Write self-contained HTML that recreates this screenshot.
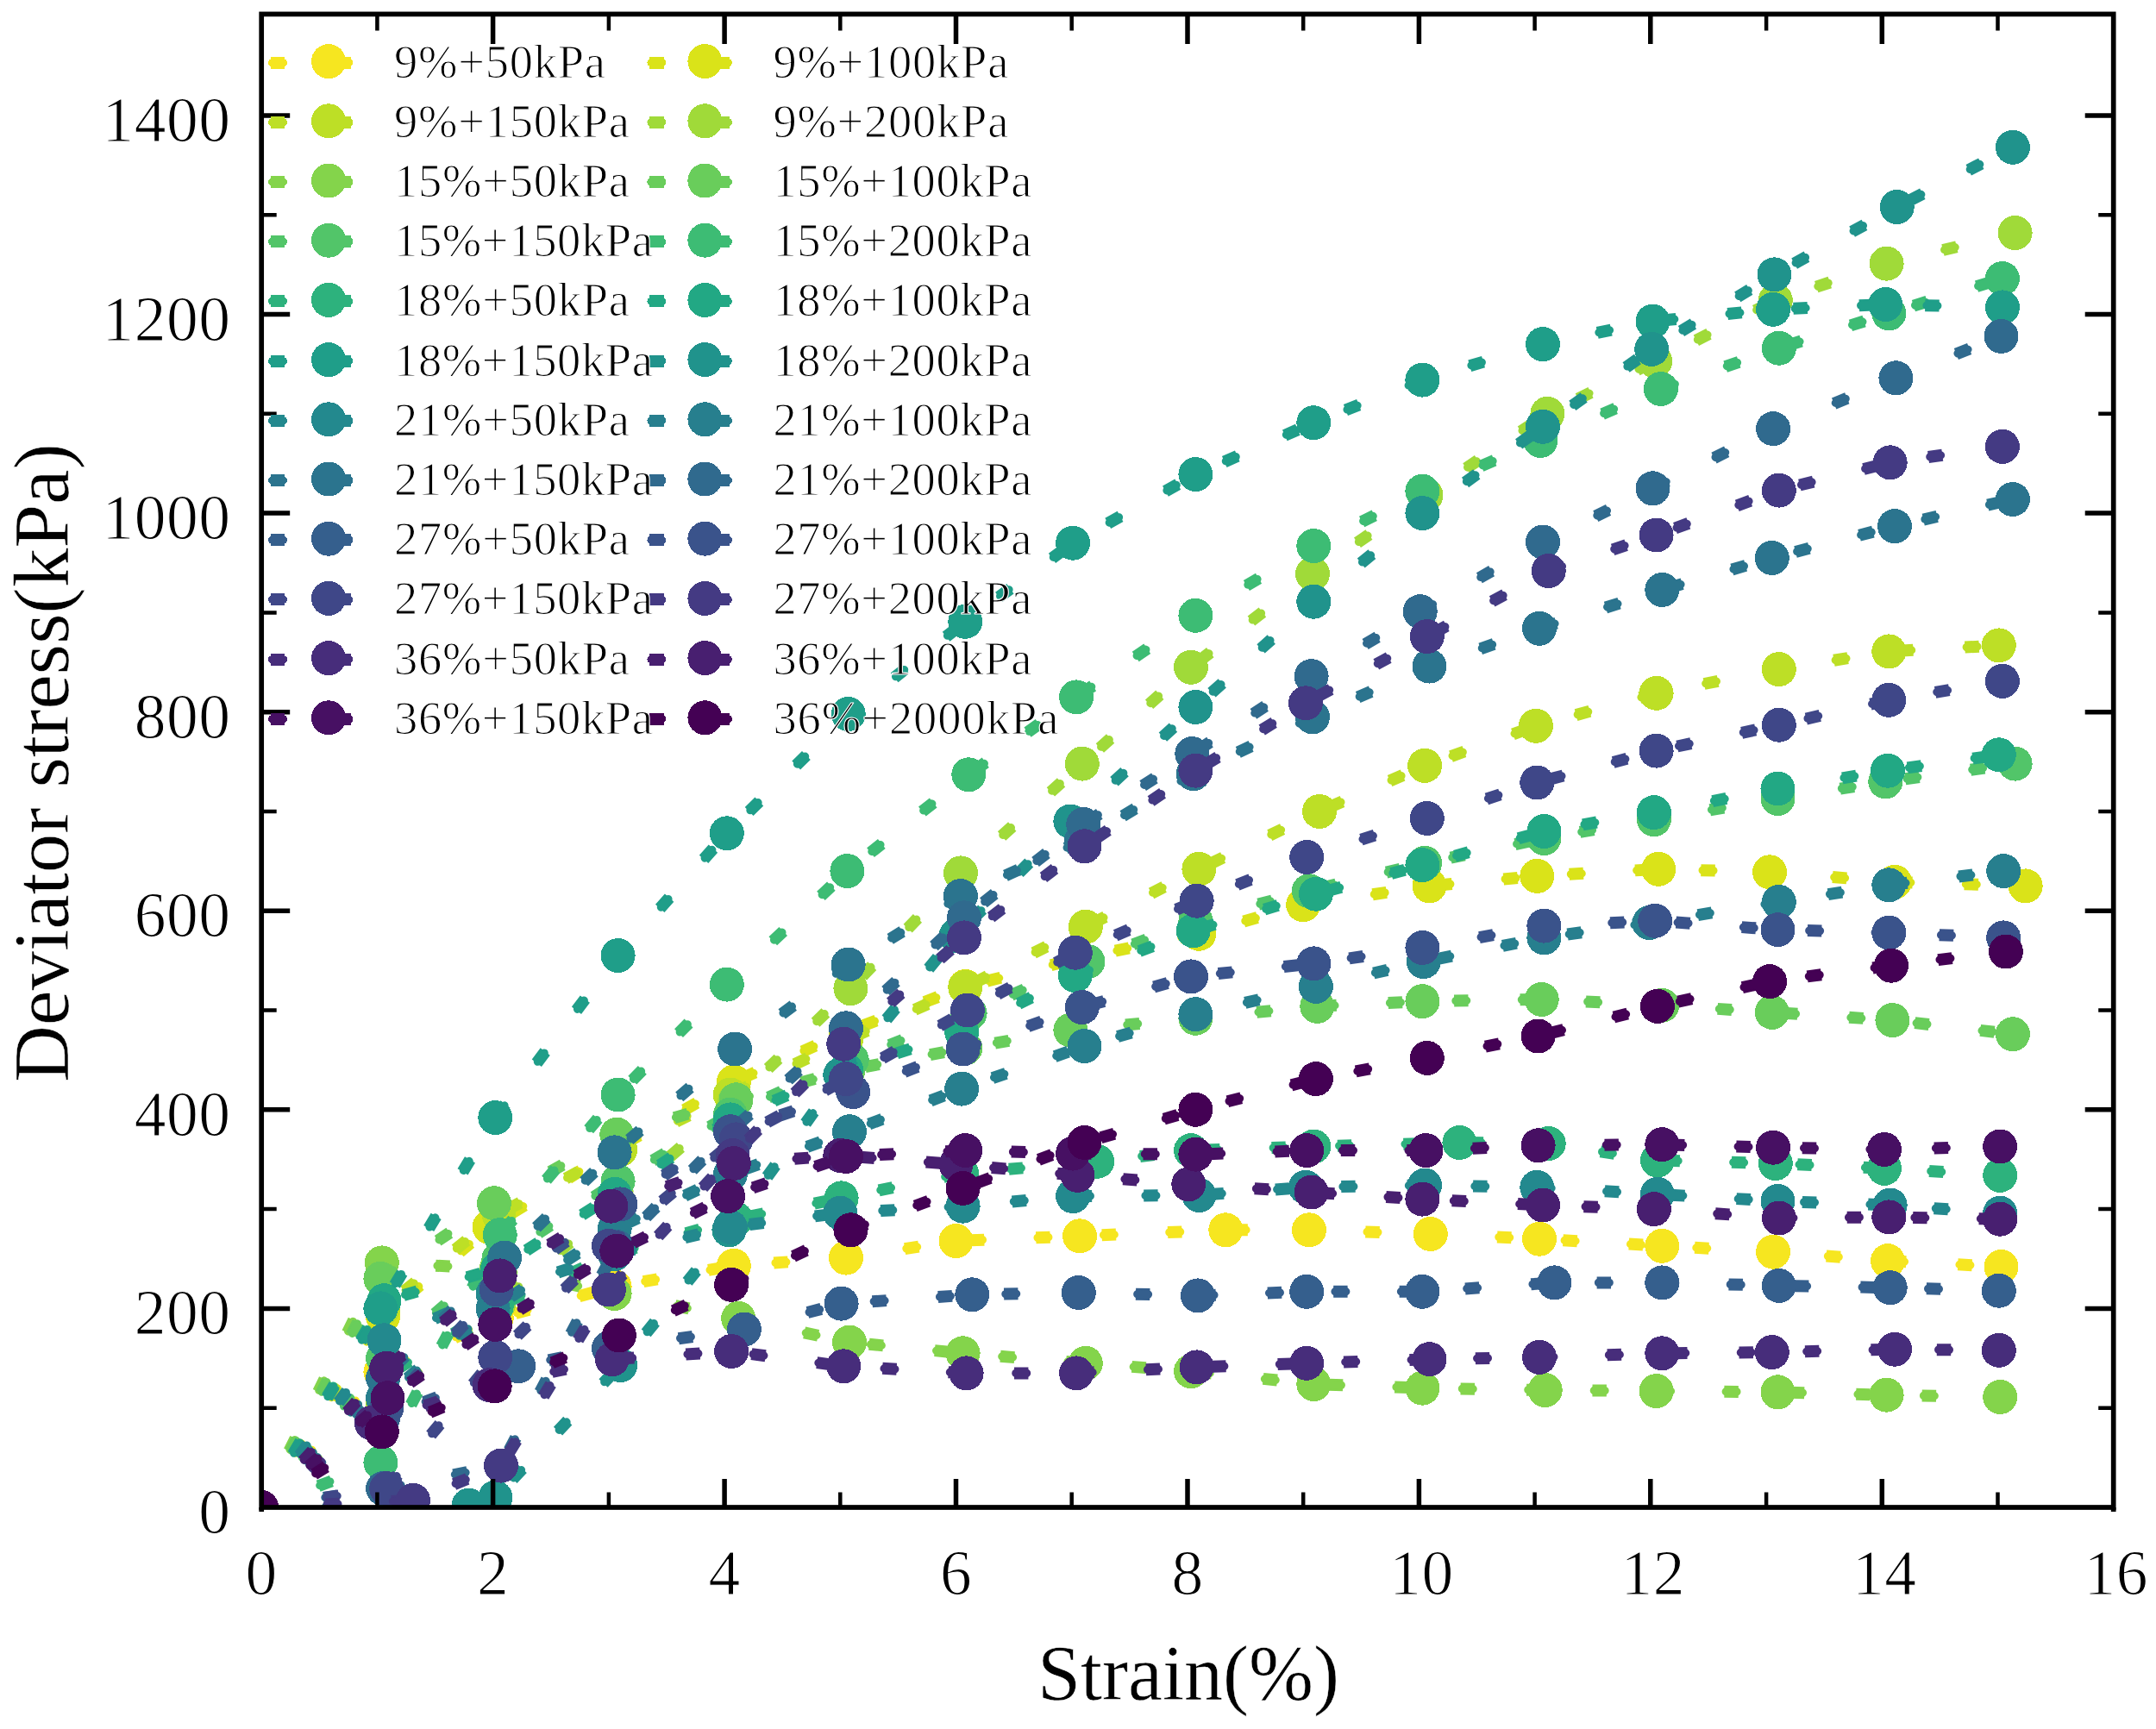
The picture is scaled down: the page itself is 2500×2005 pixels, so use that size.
<!DOCTYPE html>
<html><head><meta charset="utf-8"><title>Deviator stress vs strain</title>
<style>html,body{margin:0;padding:0;background:#fff}svg{display:block}text{font-family:"Liberation Serif",serif;fill:#000;stroke:#fff;stroke-width:1.1px;stroke-linejoin:round}</style></head><body>
<svg width="2500" height="2005" viewBox="0 0 2500 2005">
<rect width="2500" height="2005" fill="#fff"/>
<defs><clipPath id="c"><rect x="303.2" y="16.4" width="2147.5" height="1731.6"/></clipPath></defs>
<g clip-path="url(#c)">
<g fill="#f6e620" stroke="#f6e620">
<path d="M303.2,1748.0 L441.4,1591.2 L575.7,1528.9 L712.6,1492.1 L850.8,1467.8 L981.0,1458.6 L1108.5,1439.0 L1252.1,1433.3 L1421.3,1426.3 L1517.9,1426.3 L1658.8,1431.0 L1785.0,1436.7 L1927.3,1444.8 L2056.1,1451.7 L2189.0,1462.1 L2320.5,1469.0" fill="none" stroke-width="14" stroke-linejoin="round" stroke-dasharray="16.4 60.05" stroke-dashoffset="-74.1"/><path d="M303.2,1748.0 L441.4,1591.2 L575.7,1528.9 L712.6,1492.1 L850.8,1467.8 L981.0,1458.6 L1108.5,1439.0 L1252.1,1433.3 L1421.3,1426.3 L1517.9,1426.3 L1658.8,1431.0 L1785.0,1436.7 L1927.3,1444.8 L2056.1,1451.7 L2189.0,1462.1 L2320.5,1469.0" fill="none" stroke-width="9.4" stroke-linecap="round" stroke-linejoin="round" stroke-dasharray="12.6 63.85" stroke-dashoffset="-76.0"/>
<g stroke="none" shape-rendering="crispEdges"><circle cx="303.2" cy="1748.0" r="20"/><circle cx="441.4" cy="1591.2" r="20"/><circle cx="575.7" cy="1528.9" r="20"/><circle cx="712.6" cy="1492.1" r="20"/><circle cx="850.8" cy="1467.8" r="20"/><circle cx="981.0" cy="1458.6" r="20"/><circle cx="1108.5" cy="1439.0" r="20"/><circle cx="1252.1" cy="1433.3" r="20"/><circle cx="1421.3" cy="1426.3" r="20"/><circle cx="1517.9" cy="1426.3" r="20"/><circle cx="1658.8" cy="1431.0" r="20"/><circle cx="1785.0" cy="1436.7" r="20"/><circle cx="1927.3" cy="1444.8" r="20"/><circle cx="2056.1" cy="1451.7" r="20"/><circle cx="2189.0" cy="1462.1" r="20"/><circle cx="2320.5" cy="1469.0" r="20"/></g></g>
<g fill="#dae319" stroke="#dae319">
<path d="M303.2,1748.0 L444.1,1526.6 L567.6,1422.9 L716.6,1330.7" fill="none" stroke-width="14" stroke-linejoin="round" stroke-dasharray="16.4 60.05" stroke-dashoffset="-72.8"/><path d="M303.2,1748.0 L444.1,1526.6 L567.6,1422.9 L716.6,1330.7" fill="none" stroke-width="9.4" stroke-linecap="round" stroke-linejoin="round" stroke-dasharray="12.6 63.85" stroke-dashoffset="-74.7"/>
<path d="M716.6,1330.7 L850.8,1254.6 L981.0,1196.9 L1119.3,1143.9 L1249.5,1111.6 L1390.4,1082.8 L1511.2,1049.3 L1657.5,1027.4 L1782.3,1015.9 L1923.2,1007.8 L2052.1,1011.3 L2197.0,1022.8 L2348.7,1027.4" fill="none" stroke-width="14" stroke-linejoin="round" stroke-dasharray="16.4 60.05" stroke-dashoffset="-12.0"/><path d="M716.6,1330.7 L850.8,1254.6 L981.0,1196.9 L1119.3,1143.9 L1249.5,1111.6 L1390.4,1082.8 L1511.2,1049.3 L1657.5,1027.4 L1782.3,1015.9 L1923.2,1007.8 L2052.1,1011.3 L2197.0,1022.8 L2348.7,1027.4" fill="none" stroke-width="9.4" stroke-linecap="round" stroke-linejoin="round" stroke-dasharray="12.6 63.85" stroke-dashoffset="-13.9"/>
<g stroke="none" shape-rendering="crispEdges"><circle cx="303.2" cy="1748.0" r="20"/><circle cx="444.1" cy="1526.6" r="20"/><circle cx="567.6" cy="1422.9" r="20"/><circle cx="716.6" cy="1330.7" r="20"/><circle cx="850.8" cy="1254.6" r="20"/><circle cx="981.0" cy="1196.9" r="20"/><circle cx="1119.3" cy="1143.9" r="20"/><circle cx="1249.5" cy="1111.6" r="20"/><circle cx="1390.4" cy="1082.8" r="20"/><circle cx="1511.2" cy="1049.3" r="20"/><circle cx="1657.5" cy="1027.4" r="20"/><circle cx="1782.3" cy="1015.9" r="20"/><circle cx="1923.2" cy="1007.8" r="20"/><circle cx="2052.1" cy="1011.3" r="20"/><circle cx="2197.0" cy="1022.8" r="20"/><circle cx="2348.7" cy="1027.4" r="20"/></g></g>
<g fill="#bddf26" stroke="#bddf26">
<path d="M303.2,1748.0 L444.1,1517.4 L578.4,1407.9 L719.3,1333.0" fill="none" stroke-width="14" stroke-linejoin="round" stroke-dasharray="16.4 60.05" stroke-dashoffset="-72.8"/><path d="M303.2,1748.0 L444.1,1517.4 L578.4,1407.9 L719.3,1333.0" fill="none" stroke-width="9.4" stroke-linecap="round" stroke-linejoin="round" stroke-dasharray="12.6 63.85" stroke-dashoffset="-74.7"/>
<path d="M719.3,1333.0 L846.8,1269.5 L981.0,1206.1 L1119.3,1145.0 L1258.8,1074.7 L1390.4,1007.8 L1530.0,941.0 L1652.1,887.9 L1781.0,841.8 L1920.6,803.8 L2062.8,776.1 L2190.3,755.4 L2317.8,748.4" fill="none" stroke-width="14" stroke-linejoin="round" stroke-dasharray="16.4 60.05" stroke-dashoffset="-72.2"/><path d="M719.3,1333.0 L846.8,1269.5 L981.0,1206.1 L1119.3,1145.0 L1258.8,1074.7 L1390.4,1007.8 L1530.0,941.0 L1652.1,887.9 L1781.0,841.8 L1920.6,803.8 L2062.8,776.1 L2190.3,755.4 L2317.8,748.4" fill="none" stroke-width="9.4" stroke-linecap="round" stroke-linejoin="round" stroke-dasharray="12.6 63.85" stroke-dashoffset="-74.1"/>
<g stroke="none" shape-rendering="crispEdges"><circle cx="303.2" cy="1748.0" r="20"/><circle cx="444.1" cy="1517.4" r="20"/><circle cx="578.4" cy="1407.9" r="20"/><circle cx="719.3" cy="1333.0" r="20"/><circle cx="846.8" cy="1269.5" r="20"/><circle cx="981.0" cy="1206.1" r="20"/><circle cx="1119.3" cy="1145.0" r="20"/><circle cx="1258.8" cy="1074.7" r="20"/><circle cx="1390.4" cy="1007.8" r="20"/><circle cx="1530.0" cy="941.0" r="20"/><circle cx="1652.1" cy="887.9" r="20"/><circle cx="1781.0" cy="841.8" r="20"/><circle cx="1920.6" cy="803.8" r="20"/><circle cx="2062.8" cy="776.1" r="20"/><circle cx="2190.3" cy="755.4" r="20"/><circle cx="2317.8" cy="748.4" r="20"/></g></g>
<g fill="#a0da39" stroke="#a0da39">
<path d="M303.2,1748.0 L444.1,1626.9 L578.4,1511.7 L712.6,1396.4" fill="none" stroke-width="14" stroke-linejoin="round" stroke-dasharray="16.4 60.05" stroke-dashoffset="-72.8"/><path d="M303.2,1748.0 L444.1,1626.9 L578.4,1511.7 L712.6,1396.4" fill="none" stroke-width="9.4" stroke-linecap="round" stroke-linejoin="round" stroke-dasharray="12.6 63.85" stroke-dashoffset="-74.7"/>
<path d="M712.6,1396.4 L852.2,1276.5 L986.4,1146.2 L1113.9,1012.4 L1254.8,885.6 L1381.0,773.8 L1521.9,665.4 L1653.5,574.3 L1794.4,479.8 L1919.2,418.7 L2058.8,348.4 L2187.6,305.7 L2336.6,270.0" fill="none" stroke-width="14" stroke-linejoin="round" stroke-dasharray="16.4 60.05" stroke-dashoffset="-8.4"/><path d="M712.6,1396.4 L852.2,1276.5 L986.4,1146.2 L1113.9,1012.4 L1254.8,885.6 L1381.0,773.8 L1521.9,665.4 L1653.5,574.3 L1794.4,479.8 L1919.2,418.7 L2058.8,348.4 L2187.6,305.7 L2336.6,270.0" fill="none" stroke-width="9.4" stroke-linecap="round" stroke-linejoin="round" stroke-dasharray="12.6 63.85" stroke-dashoffset="-10.3"/>
<g stroke="none" shape-rendering="crispEdges"><circle cx="303.2" cy="1748.0" r="20"/><circle cx="444.1" cy="1626.9" r="20"/><circle cx="578.4" cy="1511.7" r="20"/><circle cx="712.6" cy="1396.4" r="20"/><circle cx="852.2" cy="1276.5" r="20"/><circle cx="986.4" cy="1146.2" r="20"/><circle cx="1113.9" cy="1012.4" r="20"/><circle cx="1254.8" cy="885.6" r="20"/><circle cx="1381.0" cy="773.8" r="20"/><circle cx="1521.9" cy="665.4" r="20"/><circle cx="1653.5" cy="574.3" r="20"/><circle cx="1794.4" cy="479.8" r="20"/><circle cx="1919.2" cy="418.7" r="20"/><circle cx="2058.8" cy="348.4" r="20"/><circle cx="2187.6" cy="305.7" r="20"/><circle cx="2336.6" cy="270.0" r="20"/></g></g>
<g fill="#84d44b" stroke="#84d44b">
<path d="M303.2,1748.0 L442.8,1464.4 L575.7,1471.3 L712.6,1500.1" fill="none" stroke-width="14" stroke-linejoin="round" stroke-dasharray="16.4 60.05" stroke-dashoffset="-72.8"/><path d="M303.2,1748.0 L442.8,1464.4 L575.7,1471.3 L712.6,1500.1" fill="none" stroke-width="9.4" stroke-linecap="round" stroke-linejoin="round" stroke-dasharray="12.6 63.85" stroke-dashoffset="-74.7"/>
<path d="M712.6,1500.1 L856.2,1528.9 L985.0,1556.6 L1116.6,1569.3 L1258.8,1580.8 L1381.0,1590.1 L1523.3,1605.0 L1649.4,1609.7 L1791.7,1612.0 L1920.6,1613.1 L2061.5,1614.3 L2187.6,1617.7 L2319.2,1620.0" fill="none" stroke-width="14" stroke-linejoin="round" stroke-dasharray="16.4 60.05" stroke-dashoffset="-71.7"/><path d="M712.6,1500.1 L856.2,1528.9 L985.0,1556.6 L1116.6,1569.3 L1258.8,1580.8 L1381.0,1590.1 L1523.3,1605.0 L1649.4,1609.7 L1791.7,1612.0 L1920.6,1613.1 L2061.5,1614.3 L2187.6,1617.7 L2319.2,1620.0" fill="none" stroke-width="9.4" stroke-linecap="round" stroke-linejoin="round" stroke-dasharray="12.6 63.85" stroke-dashoffset="-73.6"/>
<g stroke="none" shape-rendering="crispEdges"><circle cx="303.2" cy="1748.0" r="20"/><circle cx="442.8" cy="1464.4" r="20"/><circle cx="575.7" cy="1471.3" r="20"/><circle cx="712.6" cy="1500.1" r="20"/><circle cx="856.2" cy="1528.9" r="20"/><circle cx="985.0" cy="1556.6" r="20"/><circle cx="1116.6" cy="1569.3" r="20"/><circle cx="1258.8" cy="1580.8" r="20"/><circle cx="1381.0" cy="1590.1" r="20"/><circle cx="1523.3" cy="1605.0" r="20"/><circle cx="1649.4" cy="1609.7" r="20"/><circle cx="1791.7" cy="1612.0" r="20"/><circle cx="1920.6" cy="1613.1" r="20"/><circle cx="2061.5" cy="1614.3" r="20"/><circle cx="2187.6" cy="1617.7" r="20"/><circle cx="2319.2" cy="1620.0" r="20"/></g></g>
<g fill="#69cd5b" stroke="#69cd5b">
<path d="M303.2,1748.0 L441.4,1482.8 L573.0,1395.2 L715.3,1315.7" fill="none" stroke-width="14" stroke-linejoin="round" stroke-dasharray="16.4 60.05" stroke-dashoffset="-72.8"/><path d="M303.2,1748.0 L441.4,1482.8 L573.0,1395.2 L715.3,1315.7" fill="none" stroke-width="9.4" stroke-linecap="round" stroke-linejoin="round" stroke-dasharray="12.6 63.85" stroke-dashoffset="-74.7"/>
<path d="M715.3,1315.7 L853.5,1275.3 L983.7,1240.7 L1119.3,1215.4 L1241.4,1194.6 L1386.4,1180.8 L1527.3,1166.9 L1649.4,1161.2 L1787.7,1158.9 L1927.3,1165.8 L2054.8,1173.9 L2194.4,1183.1 L2333.9,1199.2" fill="none" stroke-width="14" stroke-linejoin="round" stroke-dasharray="16.4 60.05" stroke-dashoffset="-69.3"/><path d="M715.3,1315.7 L853.5,1275.3 L983.7,1240.7 L1119.3,1215.4 L1241.4,1194.6 L1386.4,1180.8 L1527.3,1166.9 L1649.4,1161.2 L1787.7,1158.9 L1927.3,1165.8 L2054.8,1173.9 L2194.4,1183.1 L2333.9,1199.2" fill="none" stroke-width="9.4" stroke-linecap="round" stroke-linejoin="round" stroke-dasharray="12.6 63.85" stroke-dashoffset="-71.2"/>
<g stroke="none" shape-rendering="crispEdges"><circle cx="303.2" cy="1748.0" r="20"/><circle cx="441.4" cy="1482.8" r="20"/><circle cx="573.0" cy="1395.2" r="20"/><circle cx="715.3" cy="1315.7" r="20"/><circle cx="853.5" cy="1275.3" r="20"/><circle cx="983.7" cy="1240.7" r="20"/><circle cx="1119.3" cy="1215.4" r="20"/><circle cx="1241.4" cy="1194.6" r="20"/><circle cx="1386.4" cy="1180.8" r="20"/><circle cx="1527.3" cy="1166.9" r="20"/><circle cx="1649.4" cy="1161.2" r="20"/><circle cx="1787.7" cy="1158.9" r="20"/><circle cx="1927.3" cy="1165.8" r="20"/><circle cx="2054.8" cy="1173.9" r="20"/><circle cx="2194.4" cy="1183.1" r="20"/><circle cx="2333.9" cy="1199.2" r="20"/></g></g>
<g fill="#52c569" stroke="#52c569">
<path d="M303.2,1748.0 L444.1,1575.1 L578.4,1459.8 L716.6,1369.8" fill="none" stroke-width="14" stroke-linejoin="round" stroke-dasharray="16.4 60.05" stroke-dashoffset="-72.8"/><path d="M303.2,1748.0 L444.1,1575.1 L578.4,1459.8 L716.6,1369.8" fill="none" stroke-width="9.4" stroke-linecap="round" stroke-linejoin="round" stroke-dasharray="12.6 63.85" stroke-dashoffset="-74.7"/>
<path d="M716.6,1369.8 L846.8,1292.6 L987.7,1229.2 L1124.6,1175.0 L1261.5,1115.1 L1386.4,1067.8 L1517.9,1033.2 L1652.1,1000.9 L1790.4,972.1 L1917.9,950.2 L2061.5,926.0 L2186.3,906.4 L2336.6,885.6" fill="none" stroke-width="14" stroke-linejoin="round" stroke-dasharray="16.4 60.05" stroke-dashoffset="-46.9"/><path d="M716.6,1369.8 L846.8,1292.6 L987.7,1229.2 L1124.6,1175.0 L1261.5,1115.1 L1386.4,1067.8 L1517.9,1033.2 L1652.1,1000.9 L1790.4,972.1 L1917.9,950.2 L2061.5,926.0 L2186.3,906.4 L2336.6,885.6" fill="none" stroke-width="9.4" stroke-linecap="round" stroke-linejoin="round" stroke-dasharray="12.6 63.85" stroke-dashoffset="-48.8"/>
<g stroke="none" shape-rendering="crispEdges"><circle cx="303.2" cy="1748.0" r="20"/><circle cx="444.1" cy="1575.1" r="20"/><circle cx="578.4" cy="1459.8" r="20"/><circle cx="716.6" cy="1369.8" r="20"/><circle cx="846.8" cy="1292.6" r="20"/><circle cx="987.7" cy="1229.2" r="20"/><circle cx="1124.6" cy="1175.0" r="20"/><circle cx="1261.5" cy="1115.1" r="20"/><circle cx="1386.4" cy="1067.8" r="20"/><circle cx="1517.9" cy="1033.2" r="20"/><circle cx="1652.1" cy="1000.9" r="20"/><circle cx="1790.4" cy="972.1" r="20"/><circle cx="1917.9" cy="950.2" r="20"/><circle cx="2061.5" cy="926.0" r="20"/><circle cx="2186.3" cy="906.4" r="20"/><circle cx="2336.6" cy="885.6" r="20"/></g></g>
<g fill="#3dbc74" stroke="#3dbc74">
<path d="M303.2,1748.0 L441.4,1696.1 L579.7,1432.1 L716.6,1269.5 L842.8,1141.6 L982.4,1010.1 L1123.3,898.3 L1248.1,808.4 L1386.4,713.8 L1523.3,633.1 L1649.4,569.7 L1786.3,510.9 L1925.9,451.0 L2062.8,403.7 L2190.3,363.4 L2321.9,323.0" fill="none" stroke-width="14" stroke-linejoin="round" stroke-dasharray="16.4 60.05" stroke-dashoffset="-70.4"/><path d="M303.2,1748.0 L441.4,1696.1 L579.7,1432.1 L716.6,1269.5 L842.8,1141.6 L982.4,1010.1 L1123.3,898.3 L1248.1,808.4 L1386.4,713.8 L1523.3,633.1 L1649.4,569.7 L1786.3,510.9 L1925.9,451.0 L2062.8,403.7 L2190.3,363.4 L2321.9,323.0" fill="none" stroke-width="9.4" stroke-linecap="round" stroke-linejoin="round" stroke-dasharray="12.6 63.85" stroke-dashoffset="-72.3"/>
<g stroke="none" shape-rendering="crispEdges"><circle cx="303.2" cy="1748.0" r="20"/><circle cx="441.4" cy="1696.1" r="20"/><circle cx="579.7" cy="1432.1" r="20"/><circle cx="716.6" cy="1269.5" r="20"/><circle cx="842.8" cy="1141.6" r="20"/><circle cx="982.4" cy="1010.1" r="20"/><circle cx="1123.3" cy="898.3" r="20"/><circle cx="1248.1" cy="808.4" r="20"/><circle cx="1386.4" cy="713.8" r="20"/><circle cx="1523.3" cy="633.1" r="20"/><circle cx="1649.4" cy="569.7" r="20"/><circle cx="1786.3" cy="510.9" r="20"/><circle cx="1925.9" cy="451.0" r="20"/><circle cx="2062.8" cy="403.7" r="20"/><circle cx="2190.3" cy="363.4" r="20"/><circle cx="2321.9" cy="323.0" r="20"/></g></g>
<g fill="#2db27d" stroke="#2db27d">
<path d="M303.2,1748.0 L444.1,1598.1 L575.7,1515.1 L712.6,1454.0" fill="none" stroke-width="14" stroke-linejoin="round" stroke-dasharray="16.4 60.05" stroke-dashoffset="-72.8"/><path d="M303.2,1748.0 L444.1,1598.1 L575.7,1515.1 L712.6,1454.0" fill="none" stroke-width="9.4" stroke-linecap="round" stroke-linejoin="round" stroke-dasharray="12.6 63.85" stroke-dashoffset="-74.7"/>
<path d="M712.6,1454.0 L853.5,1413.7 L975.6,1389.4 L1115.2,1360.6 L1272.3,1346.8 L1381.0,1334.1 L1523.3,1329.5 L1692.4,1324.9 L1795.7,1326.0 L1921.9,1345.6 L2058.8,1349.1 L2185.0,1354.9 L2319.2,1362.9" fill="none" stroke-width="14" stroke-linejoin="round" stroke-dasharray="16.4 60.05" stroke-dashoffset="-9.7"/><path d="M712.6,1454.0 L853.5,1413.7 L975.6,1389.4 L1115.2,1360.6 L1272.3,1346.8 L1381.0,1334.1 L1523.3,1329.5 L1692.4,1324.9 L1795.7,1326.0 L1921.9,1345.6 L2058.8,1349.1 L2185.0,1354.9 L2319.2,1362.9" fill="none" stroke-width="9.4" stroke-linecap="round" stroke-linejoin="round" stroke-dasharray="12.6 63.85" stroke-dashoffset="-11.6"/>
<g stroke="none" shape-rendering="crispEdges"><circle cx="303.2" cy="1748.0" r="20"/><circle cx="444.1" cy="1598.1" r="20"/><circle cx="575.7" cy="1515.1" r="20"/><circle cx="712.6" cy="1454.0" r="20"/><circle cx="853.5" cy="1413.7" r="20"/><circle cx="975.6" cy="1389.4" r="20"/><circle cx="1115.2" cy="1360.6" r="20"/><circle cx="1272.3" cy="1346.8" r="20"/><circle cx="1381.0" cy="1334.1" r="20"/><circle cx="1523.3" cy="1329.5" r="20"/><circle cx="1692.4" cy="1324.9" r="20"/><circle cx="1795.7" cy="1326.0" r="20"/><circle cx="1921.9" cy="1345.6" r="20"/><circle cx="2058.8" cy="1349.1" r="20"/><circle cx="2185.0" cy="1354.9" r="20"/><circle cx="2319.2" cy="1362.9" r="20"/></g></g>
<g fill="#22a884" stroke="#22a884">
<path d="M303.2,1748.0 L445.5,1508.2 L577.0,1471.3 L712.6,1384.8" fill="none" stroke-width="14" stroke-linejoin="round" stroke-dasharray="16.4 60.05" stroke-dashoffset="-72.8"/><path d="M303.2,1748.0 L445.5,1508.2 L577.0,1471.3 L712.6,1384.8" fill="none" stroke-width="9.4" stroke-linecap="round" stroke-linejoin="round" stroke-dasharray="12.6 63.85" stroke-dashoffset="-74.7"/>
<path d="M712.6,1384.8 L846.8,1298.4 L981.0,1240.7 L1115.2,1196.9 L1246.8,1131.2 L1383.7,1079.3 L1525.9,1036.7 L1649.4,1003.2 L1790.4,964.0 L1917.9,942.1 L2061.5,914.5 L2189.0,893.7 L2317.8,875.3" fill="none" stroke-width="14" stroke-linejoin="round" stroke-dasharray="16.4 60.05" stroke-dashoffset="-61.9"/><path d="M712.6,1384.8 L846.8,1298.4 L981.0,1240.7 L1115.2,1196.9 L1246.8,1131.2 L1383.7,1079.3 L1525.9,1036.7 L1649.4,1003.2 L1790.4,964.0 L1917.9,942.1 L2061.5,914.5 L2189.0,893.7 L2317.8,875.3" fill="none" stroke-width="9.4" stroke-linecap="round" stroke-linejoin="round" stroke-dasharray="12.6 63.85" stroke-dashoffset="-63.8"/>
<g stroke="none" shape-rendering="crispEdges"><circle cx="303.2" cy="1748.0" r="20"/><circle cx="445.5" cy="1508.2" r="20"/><circle cx="577.0" cy="1471.3" r="20"/><circle cx="712.6" cy="1384.8" r="20"/><circle cx="846.8" cy="1298.4" r="20"/><circle cx="981.0" cy="1240.7" r="20"/><circle cx="1115.2" cy="1196.9" r="20"/><circle cx="1246.8" cy="1131.2" r="20"/><circle cx="1383.7" cy="1079.3" r="20"/><circle cx="1525.9" cy="1036.7" r="20"/><circle cx="1649.4" cy="1003.2" r="20"/><circle cx="1790.4" cy="964.0" r="20"/><circle cx="1917.9" cy="942.1" r="20"/><circle cx="2061.5" cy="914.5" r="20"/><circle cx="2189.0" cy="893.7" r="20"/><circle cx="2317.8" cy="875.3" r="20"/></g></g>
<g fill="#1f9e89" stroke="#1f9e89">
<path d="M303.2,1748.0 L441.4,1517.4 L574.3,1296.1 L716.6,1108.1 L842.8,966.3 L983.7,828.0 L1119.3,720.8 L1244.1,629.7 L1386.4,550.1 L1523.3,490.2 L1649.4,440.6 L1789.0,399.1 L1916.5,372.6 L2056.1,358.8 L2186.3,353.0 L2321.9,356.4" fill="none" stroke-width="14" stroke-linejoin="round" stroke-dasharray="16.4 60.05" stroke-dashoffset="-71.4"/><path d="M303.2,1748.0 L441.4,1517.4 L574.3,1296.1 L716.6,1108.1 L842.8,966.3 L983.7,828.0 L1119.3,720.8 L1244.1,629.7 L1386.4,550.1 L1523.3,490.2 L1649.4,440.6 L1789.0,399.1 L1916.5,372.6 L2056.1,358.8 L2186.3,353.0 L2321.9,356.4" fill="none" stroke-width="9.4" stroke-linecap="round" stroke-linejoin="round" stroke-dasharray="12.6 63.85" stroke-dashoffset="-73.3"/>
<g stroke="none" shape-rendering="crispEdges"><circle cx="303.2" cy="1748.0" r="20"/><circle cx="441.4" cy="1517.4" r="20"/><circle cx="574.3" cy="1296.1" r="20"/><circle cx="716.6" cy="1108.1" r="20"/><circle cx="842.8" cy="966.3" r="20"/><circle cx="983.7" cy="828.0" r="20"/><circle cx="1119.3" cy="720.8" r="20"/><circle cx="1244.1" cy="629.7" r="20"/><circle cx="1386.4" cy="550.1" r="20"/><circle cx="1523.3" cy="490.2" r="20"/><circle cx="1649.4" cy="440.6" r="20"/><circle cx="1789.0" cy="399.1" r="20"/><circle cx="1916.5" cy="372.6" r="20"/><circle cx="2056.1" cy="358.8" r="20"/><circle cx="2186.3" cy="353.0" r="20"/><circle cx="2321.9" cy="356.4" r="20"/></g></g>
<g fill="#20938c" stroke="#20938c">
<path d="M303.2,1748.0 L543.5,1745.7 L574.3,1736.5 L719.3,1583.1 L845.4,1426.3 L974.3,1246.5 L1108.5,1085.1 L1241.4,952.5 L1386.4,819.9 L1523.3,697.7 L1649.4,595.1 L1789.0,494.8 L1915.2,404.9 L2057.5,318.4 L2199.7,240.0 L2333.9,170.8" fill="none" stroke-width="14" stroke-linejoin="round" stroke-dasharray="16.4 60.05" stroke-dashoffset="-72.5"/><path d="M303.2,1748.0 L543.5,1745.7 L574.3,1736.5 L719.3,1583.1 L845.4,1426.3 L974.3,1246.5 L1108.5,1085.1 L1241.4,952.5 L1386.4,819.9 L1523.3,697.7 L1649.4,595.1 L1789.0,494.8 L1915.2,404.9 L2057.5,318.4 L2199.7,240.0 L2333.9,170.8" fill="none" stroke-width="9.4" stroke-linecap="round" stroke-linejoin="round" stroke-dasharray="12.6 63.85" stroke-dashoffset="-74.4"/>
<g stroke="none" shape-rendering="crispEdges"><circle cx="303.2" cy="1748.0" r="20"/><circle cx="543.5" cy="1745.7" r="20"/><circle cx="574.3" cy="1736.5" r="20"/><circle cx="719.3" cy="1583.1" r="20"/><circle cx="845.4" cy="1426.3" r="20"/><circle cx="974.3" cy="1246.5" r="20"/><circle cx="1108.5" cy="1085.1" r="20"/><circle cx="1241.4" cy="952.5" r="20"/><circle cx="1386.4" cy="819.9" r="20"/><circle cx="1523.3" cy="697.7" r="20"/><circle cx="1649.4" cy="595.1" r="20"/><circle cx="1789.0" cy="494.8" r="20"/><circle cx="1915.2" cy="404.9" r="20"/><circle cx="2057.5" cy="318.4" r="20"/><circle cx="2199.7" cy="240.0" r="20"/><circle cx="2333.9" cy="170.8" r="20"/></g></g>
<g fill="#23898e" stroke="#23898e">
<path d="M303.2,1748.0 L445.5,1554.3 L571.6,1500.1 L712.6,1454.0 L846.8,1422.9 L974.3,1406.7 L1116.6,1398.7 L1244.1,1387.1 L1390.4,1386.0 L1513.9,1376.8 L1652.1,1374.5 L1782.3,1376.8 L1921.9,1384.8 L2061.5,1392.9 L2191.7,1397.5 L2319.2,1406.7" fill="none" stroke-width="14" stroke-linejoin="round" stroke-dasharray="16.4 60.05" stroke-dashoffset="-74.6"/><path d="M303.2,1748.0 L445.5,1554.3 L571.6,1500.1 L712.6,1454.0 L846.8,1422.9 L974.3,1406.7 L1116.6,1398.7 L1244.1,1387.1 L1390.4,1386.0 L1513.9,1376.8 L1652.1,1374.5 L1782.3,1376.8 L1921.9,1384.8 L2061.5,1392.9 L2191.7,1397.5 L2319.2,1406.7" fill="none" stroke-width="9.4" stroke-linecap="round" stroke-linejoin="round" stroke-dasharray="12.6 63.85" stroke-dashoffset="-76.5"/>
<g stroke="none" shape-rendering="crispEdges"><circle cx="303.2" cy="1748.0" r="20"/><circle cx="445.5" cy="1554.3" r="20"/><circle cx="571.6" cy="1500.1" r="20"/><circle cx="712.6" cy="1454.0" r="20"/><circle cx="846.8" cy="1422.9" r="20"/><circle cx="974.3" cy="1406.7" r="20"/><circle cx="1116.6" cy="1398.7" r="20"/><circle cx="1244.1" cy="1387.1" r="20"/><circle cx="1390.4" cy="1386.0" r="20"/><circle cx="1513.9" cy="1376.8" r="20"/><circle cx="1652.1" cy="1374.5" r="20"/><circle cx="1782.3" cy="1376.8" r="20"/><circle cx="1921.9" cy="1384.8" r="20"/><circle cx="2061.5" cy="1392.9" r="20"/><circle cx="2191.7" cy="1397.5" r="20"/><circle cx="2319.2" cy="1406.7" r="20"/></g></g>
<g fill="#277f8e" stroke="#277f8e">
<path d="M303.2,1748.0 L444.1,1621.2 L571.6,1517.4 L712.6,1425.2" fill="none" stroke-width="14" stroke-linejoin="round" stroke-dasharray="16.4 60.05" stroke-dashoffset="-72.8"/><path d="M303.2,1748.0 L444.1,1621.2 L571.6,1517.4 L712.6,1425.2" fill="none" stroke-width="9.4" stroke-linecap="round" stroke-linejoin="round" stroke-dasharray="12.6 63.85" stroke-dashoffset="-74.7"/>
<path d="M712.6,1425.2 L846.8,1361.8 L985.0,1312.2 L1115.2,1262.6 L1257.5,1213.1 L1386.4,1176.2 L1525.9,1143.9 L1650.8,1115.1 L1790.4,1087.4 L1912.5,1070.1 L2062.8,1045.9 L2190.3,1026.3 L2323.2,1010.1" fill="none" stroke-width="14" stroke-linejoin="round" stroke-dasharray="16.4 60.05" stroke-dashoffset="-13.7"/><path d="M712.6,1425.2 L846.8,1361.8 L985.0,1312.2 L1115.2,1262.6 L1257.5,1213.1 L1386.4,1176.2 L1525.9,1143.9 L1650.8,1115.1 L1790.4,1087.4 L1912.5,1070.1 L2062.8,1045.9 L2190.3,1026.3 L2323.2,1010.1" fill="none" stroke-width="9.4" stroke-linecap="round" stroke-linejoin="round" stroke-dasharray="12.6 63.85" stroke-dashoffset="-15.6"/>
<g stroke="none" shape-rendering="crispEdges"><circle cx="303.2" cy="1748.0" r="20"/><circle cx="444.1" cy="1621.2" r="20"/><circle cx="571.6" cy="1517.4" r="20"/><circle cx="712.6" cy="1425.2" r="20"/><circle cx="846.8" cy="1361.8" r="20"/><circle cx="985.0" cy="1312.2" r="20"/><circle cx="1115.2" cy="1262.6" r="20"/><circle cx="1257.5" cy="1213.1" r="20"/><circle cx="1386.4" cy="1176.2" r="20"/><circle cx="1525.9" cy="1143.9" r="20"/><circle cx="1650.8" cy="1115.1" r="20"/><circle cx="1790.4" cy="1087.4" r="20"/><circle cx="1912.5" cy="1070.1" r="20"/><circle cx="2062.8" cy="1045.9" r="20"/><circle cx="2190.3" cy="1026.3" r="20"/><circle cx="2323.2" cy="1010.1" r="20"/></g></g>
<g fill="#2b748e" stroke="#2b748e">
<path d="M303.2,1748.0 L444.1,1598.1 L585.1,1458.6 L712.6,1336.4" fill="none" stroke-width="14" stroke-linejoin="round" stroke-dasharray="16.4 60.05" stroke-dashoffset="-72.8"/><path d="M303.2,1748.0 L444.1,1598.1 L585.1,1458.6 L712.6,1336.4" fill="none" stroke-width="9.4" stroke-linecap="round" stroke-linejoin="round" stroke-dasharray="12.6 63.85" stroke-dashoffset="-74.7"/>
<path d="M712.6,1336.4 L852.2,1216.5 L983.7,1118.5 L1113.9,1039.0 L1253.5,975.6 L1383.7,897.2 L1521.9,831.4 L1657.5,772.6 L1785.0,728.8 L1927.3,683.9 L2054.8,647.0 L2197.0,610.1 L2333.9,579.0" fill="none" stroke-width="14" stroke-linejoin="round" stroke-dasharray="16.4 60.05" stroke-dashoffset="-22.6"/><path d="M712.6,1336.4 L852.2,1216.5 L983.7,1118.5 L1113.9,1039.0 L1253.5,975.6 L1383.7,897.2 L1521.9,831.4 L1657.5,772.6 L1785.0,728.8 L1927.3,683.9 L2054.8,647.0 L2197.0,610.1 L2333.9,579.0" fill="none" stroke-width="9.4" stroke-linecap="round" stroke-linejoin="round" stroke-dasharray="12.6 63.85" stroke-dashoffset="-24.5"/>
<g stroke="none" shape-rendering="crispEdges"><circle cx="303.2" cy="1748.0" r="20"/><circle cx="444.1" cy="1598.1" r="20"/><circle cx="585.1" cy="1458.6" r="20"/><circle cx="712.6" cy="1336.4" r="20"/><circle cx="852.2" cy="1216.5" r="20"/><circle cx="983.7" cy="1118.5" r="20"/><circle cx="1113.9" cy="1039.0" r="20"/><circle cx="1253.5" cy="975.6" r="20"/><circle cx="1383.7" cy="897.2" r="20"/><circle cx="1521.9" cy="831.4" r="20"/><circle cx="1657.5" cy="772.6" r="20"/><circle cx="1785.0" cy="728.8" r="20"/><circle cx="1927.3" cy="683.9" r="20"/><circle cx="2054.8" cy="647.0" r="20"/><circle cx="2197.0" cy="610.1" r="20"/><circle cx="2333.9" cy="579.0" r="20"/></g></g>
<g fill="#306a8e" stroke="#306a8e">
<path d="M303.2,1748.0 L444.1,1726.1 L581.0,1699.6 L715.3,1445.9" fill="none" stroke-width="14" stroke-linejoin="round" stroke-dasharray="16.4 60.05" stroke-dashoffset="-72.8"/><path d="M303.2,1748.0 L444.1,1726.1 L581.0,1699.6 L715.3,1445.9" fill="none" stroke-width="9.4" stroke-linecap="round" stroke-linejoin="round" stroke-dasharray="12.6 63.85" stroke-dashoffset="-74.7"/>
<path d="M715.3,1445.9 L846.8,1312.2 L981.0,1192.3 L1117.9,1064.3 L1256.2,956.0 L1382.3,874.1 L1520.6,784.2 L1646.7,709.2 L1789.0,628.5 L1916.5,566.3 L2056.1,497.1 L2198.4,438.3 L2320.5,389.9" fill="none" stroke-width="14" stroke-linejoin="round" stroke-dasharray="16.4 60.05" stroke-dashoffset="-48.3"/><path d="M715.3,1445.9 L846.8,1312.2 L981.0,1192.3 L1117.9,1064.3 L1256.2,956.0 L1382.3,874.1 L1520.6,784.2 L1646.7,709.2 L1789.0,628.5 L1916.5,566.3 L2056.1,497.1 L2198.4,438.3 L2320.5,389.9" fill="none" stroke-width="9.4" stroke-linecap="round" stroke-linejoin="round" stroke-dasharray="12.6 63.85" stroke-dashoffset="-50.2"/>
<g stroke="none" shape-rendering="crispEdges"><circle cx="303.2" cy="1748.0" r="20"/><circle cx="444.1" cy="1726.1" r="20"/><circle cx="581.0" cy="1699.6" r="20"/><circle cx="715.3" cy="1445.9" r="20"/><circle cx="846.8" cy="1312.2" r="20"/><circle cx="981.0" cy="1192.3" r="20"/><circle cx="1117.9" cy="1064.3" r="20"/><circle cx="1256.2" cy="956.0" r="20"/><circle cx="1382.3" cy="874.1" r="20"/><circle cx="1520.6" cy="784.2" r="20"/><circle cx="1646.7" cy="709.2" r="20"/><circle cx="1789.0" cy="628.5" r="20"/><circle cx="1916.5" cy="566.3" r="20"/><circle cx="2056.1" cy="497.1" r="20"/><circle cx="2198.4" cy="438.3" r="20"/><circle cx="2320.5" cy="389.9" r="20"/></g></g>
<g fill="#355f8d" stroke="#355f8d">
<path d="M303.2,1748.0 L444.1,1644.2 L601.2,1584.3 L705.9,1563.5 L862.9,1541.6 L975.6,1511.7 L1127.3,1501.3 L1250.8,1499.0 L1389.0,1502.4 L1515.2,1497.8 L1649.4,1497.8 L1802.4,1487.4 L1927.3,1487.4 L2062.8,1490.9 L2191.7,1493.2 L2317.8,1496.7" fill="none" stroke-width="14" stroke-linejoin="round" stroke-dasharray="16.4 60.05" stroke-dashoffset="-72.9"/><path d="M303.2,1748.0 L444.1,1644.2 L601.2,1584.3 L705.9,1563.5 L862.9,1541.6 L975.6,1511.7 L1127.3,1501.3 L1250.8,1499.0 L1389.0,1502.4 L1515.2,1497.8 L1649.4,1497.8 L1802.4,1487.4 L1927.3,1487.4 L2062.8,1490.9 L2191.7,1493.2 L2317.8,1496.7" fill="none" stroke-width="9.4" stroke-linecap="round" stroke-linejoin="round" stroke-dasharray="12.6 63.85" stroke-dashoffset="-74.8"/>
<g stroke="none" shape-rendering="crispEdges"><circle cx="303.2" cy="1748.0" r="20"/><circle cx="444.1" cy="1644.2" r="20"/><circle cx="601.2" cy="1584.3" r="20"/><circle cx="705.9" cy="1563.5" r="20"/><circle cx="862.9" cy="1541.6" r="20"/><circle cx="975.6" cy="1511.7" r="20"/><circle cx="1127.3" cy="1501.3" r="20"/><circle cx="1250.8" cy="1499.0" r="20"/><circle cx="1389.0" cy="1502.4" r="20"/><circle cx="1515.2" cy="1497.8" r="20"/><circle cx="1649.4" cy="1497.8" r="20"/><circle cx="1802.4" cy="1487.4" r="20"/><circle cx="1927.3" cy="1487.4" r="20"/><circle cx="2062.8" cy="1490.9" r="20"/><circle cx="2191.7" cy="1493.2" r="20"/><circle cx="2317.8" cy="1496.7" r="20"/></g></g>
<g fill="#3a538b" stroke="#3a538b">
<path d="M303.2,1748.0 L448.2,1632.7 L575.7,1495.5 L719.3,1396.4 L846.8,1312.2 L989.1,1266.1 L1116.6,1216.5 L1254.8,1168.1 L1381.0,1132.4 L1523.3,1117.4 L1649.4,1098.9 L1790.4,1073.6 L1919.2,1067.8 L2061.5,1078.2 L2190.3,1081.6 L2323.2,1087.4" fill="none" stroke-width="14" stroke-linejoin="round" stroke-dasharray="16.4 60.05" stroke-dashoffset="-72.4"/><path d="M303.2,1748.0 L448.2,1632.7 L575.7,1495.5 L719.3,1396.4 L846.8,1312.2 L989.1,1266.1 L1116.6,1216.5 L1254.8,1168.1 L1381.0,1132.4 L1523.3,1117.4 L1649.4,1098.9 L1790.4,1073.6 L1919.2,1067.8 L2061.5,1078.2 L2190.3,1081.6 L2323.2,1087.4" fill="none" stroke-width="9.4" stroke-linecap="round" stroke-linejoin="round" stroke-dasharray="12.6 63.85" stroke-dashoffset="-74.3"/>
<g stroke="none" shape-rendering="crispEdges"><circle cx="303.2" cy="1748.0" r="20"/><circle cx="448.2" cy="1632.7" r="20"/><circle cx="575.7" cy="1495.5" r="20"/><circle cx="719.3" cy="1396.4" r="20"/><circle cx="846.8" cy="1312.2" r="20"/><circle cx="989.1" cy="1266.1" r="20"/><circle cx="1116.6" cy="1216.5" r="20"/><circle cx="1254.8" cy="1168.1" r="20"/><circle cx="1381.0" cy="1132.4" r="20"/><circle cx="1523.3" cy="1117.4" r="20"/><circle cx="1649.4" cy="1098.9" r="20"/><circle cx="1790.4" cy="1073.6" r="20"/><circle cx="1919.2" cy="1067.8" r="20"/><circle cx="2061.5" cy="1078.2" r="20"/><circle cx="2190.3" cy="1081.6" r="20"/><circle cx="2323.2" cy="1087.4" r="20"/></g></g>
<g fill="#3f4788" stroke="#3f4788">
<path d="M303.2,1748.0 L448.2,1726.1 L574.3,1573.9 L705.9,1444.8 L853.5,1321.4 L981.0,1251.1 L1121.9,1171.5 L1246.8,1104.7 L1387.7,1044.7 L1515.2,994.0 L1654.8,949.0 L1782.3,907.5 L1920.6,870.6 L2062.8,840.7 L2190.3,811.8 L2321.9,789.9" fill="none" stroke-width="14" stroke-linejoin="round" stroke-dasharray="16.4 60.05" stroke-dashoffset="-74.3"/><path d="M303.2,1748.0 L448.2,1726.1 L574.3,1573.9 L705.9,1444.8 L853.5,1321.4 L981.0,1251.1 L1121.9,1171.5 L1246.8,1104.7 L1387.7,1044.7 L1515.2,994.0 L1654.8,949.0 L1782.3,907.5 L1920.6,870.6 L2062.8,840.7 L2190.3,811.8 L2321.9,789.9" fill="none" stroke-width="9.4" stroke-linecap="round" stroke-linejoin="round" stroke-dasharray="12.6 63.85" stroke-dashoffset="-76.2"/>
<g stroke="none" shape-rendering="crispEdges"><circle cx="303.2" cy="1748.0" r="20"/><circle cx="448.2" cy="1726.1" r="20"/><circle cx="574.3" cy="1573.9" r="20"/><circle cx="705.9" cy="1444.8" r="20"/><circle cx="853.5" cy="1321.4" r="20"/><circle cx="981.0" cy="1251.1" r="20"/><circle cx="1121.9" cy="1171.5" r="20"/><circle cx="1246.8" cy="1104.7" r="20"/><circle cx="1387.7" cy="1044.7" r="20"/><circle cx="1515.2" cy="994.0" r="20"/><circle cx="1654.8" cy="949.0" r="20"/><circle cx="1782.3" cy="907.5" r="20"/><circle cx="1920.6" cy="870.6" r="20"/><circle cx="2062.8" cy="840.7" r="20"/><circle cx="2190.3" cy="811.8" r="20"/><circle cx="2321.9" cy="789.9" r="20"/></g></g>
<g fill="#443a83" stroke="#443a83">
<path d="M303.2,1748.0 L479.0,1739.9 L581.0,1699.6 L705.9,1495.5 L849.5,1339.9 L978.3,1210.7 L1117.9,1087.4 L1257.5,981.3 L1386.4,893.7 L1513.9,815.3 L1654.8,738.1 L1795.7,662.0 L1920.6,620.5 L2062.8,568.6 L2191.7,536.3 L2321.9,517.9" fill="none" stroke-width="14" stroke-linejoin="round" stroke-dasharray="16.4 60.05" stroke-dashoffset="-74.2"/><path d="M303.2,1748.0 L479.0,1739.9 L581.0,1699.6 L705.9,1495.5 L849.5,1339.9 L978.3,1210.7 L1117.9,1087.4 L1257.5,981.3 L1386.4,893.7 L1513.9,815.3 L1654.8,738.1 L1795.7,662.0 L1920.6,620.5 L2062.8,568.6 L2191.7,536.3 L2321.9,517.9" fill="none" stroke-width="9.4" stroke-linecap="round" stroke-linejoin="round" stroke-dasharray="12.6 63.85" stroke-dashoffset="-76.1"/>
<g stroke="none" shape-rendering="crispEdges"><circle cx="303.2" cy="1748.0" r="20"/><circle cx="479.0" cy="1739.9" r="20"/><circle cx="581.0" cy="1699.6" r="20"/><circle cx="705.9" cy="1495.5" r="20"/><circle cx="849.5" cy="1339.9" r="20"/><circle cx="978.3" cy="1210.7" r="20"/><circle cx="1117.9" cy="1087.4" r="20"/><circle cx="1257.5" cy="981.3" r="20"/><circle cx="1386.4" cy="893.7" r="20"/><circle cx="1513.9" cy="815.3" r="20"/><circle cx="1654.8" cy="738.1" r="20"/><circle cx="1795.7" cy="662.0" r="20"/><circle cx="1920.6" cy="620.5" r="20"/><circle cx="2062.8" cy="568.6" r="20"/><circle cx="2191.7" cy="536.3" r="20"/><circle cx="2321.9" cy="517.9" r="20"/></g></g>
<g fill="#472d7b" stroke="#472d7b">
<path d="M303.2,1748.0 L430.7,1650.0 L567.6,1606.2 L709.9,1576.2" fill="none" stroke-width="14" stroke-linejoin="round" stroke-dasharray="16.4 60.05" stroke-dashoffset="-72.8"/><path d="M303.2,1748.0 L430.7,1650.0 L567.6,1606.2 L709.9,1576.2" fill="none" stroke-width="9.4" stroke-linecap="round" stroke-linejoin="round" stroke-dasharray="12.6 63.85" stroke-dashoffset="-74.7"/>
<path d="M709.9,1576.2 L848.1,1567.0 L978.3,1584.3 L1120.6,1592.4 L1248.1,1592.4 L1387.7,1585.4 L1515.2,1580.8 L1657.5,1576.2 L1785.0,1573.9 L1927.3,1569.3 L2054.8,1568.1 L2197.0,1564.7 L2317.8,1565.8" fill="none" stroke-width="14" stroke-linejoin="round" stroke-dasharray="16.4 60.05" stroke-dashoffset="-9.1"/><path d="M709.9,1576.2 L848.1,1567.0 L978.3,1584.3 L1120.6,1592.4 L1248.1,1592.4 L1387.7,1585.4 L1515.2,1580.8 L1657.5,1576.2 L1785.0,1573.9 L1927.3,1569.3 L2054.8,1568.1 L2197.0,1564.7 L2317.8,1565.8" fill="none" stroke-width="9.4" stroke-linecap="round" stroke-linejoin="round" stroke-dasharray="12.6 63.85" stroke-dashoffset="-11.0"/>
<g stroke="none" shape-rendering="crispEdges"><circle cx="303.2" cy="1748.0" r="20"/><circle cx="430.7" cy="1650.0" r="20"/><circle cx="567.6" cy="1606.2" r="20"/><circle cx="709.9" cy="1576.2" r="20"/><circle cx="848.1" cy="1567.0" r="20"/><circle cx="978.3" cy="1584.3" r="20"/><circle cx="1120.6" cy="1592.4" r="20"/><circle cx="1248.1" cy="1592.4" r="20"/><circle cx="1387.7" cy="1585.4" r="20"/><circle cx="1515.2" cy="1580.8" r="20"/><circle cx="1657.5" cy="1576.2" r="20"/><circle cx="1785.0" cy="1573.9" r="20"/><circle cx="1927.3" cy="1569.3" r="20"/><circle cx="2054.8" cy="1568.1" r="20"/><circle cx="2197.0" cy="1564.7" r="20"/><circle cx="2317.8" cy="1565.8" r="20"/></g></g>
<g fill="#481f70" stroke="#481f70">
<path d="M303.2,1748.0 L448.2,1586.6 L579.7,1479.4 L708.5,1398.7 L850.8,1349.1 L974.3,1339.9 L1108.5,1350.2 L1249.5,1362.9 L1378.3,1373.3 L1520.6,1382.5 L1649.4,1390.6 L1789.0,1397.5 L1917.9,1402.1 L2062.8,1412.5 L2190.3,1411.4 L2319.2,1413.7" fill="none" stroke-width="14" stroke-linejoin="round" stroke-dasharray="16.4 60.05" stroke-dashoffset="-71.9"/><path d="M303.2,1748.0 L448.2,1586.6 L579.7,1479.4 L708.5,1398.7 L850.8,1349.1 L974.3,1339.9 L1108.5,1350.2 L1249.5,1362.9 L1378.3,1373.3 L1520.6,1382.5 L1649.4,1390.6 L1789.0,1397.5 L1917.9,1402.1 L2062.8,1412.5 L2190.3,1411.4 L2319.2,1413.7" fill="none" stroke-width="9.4" stroke-linecap="round" stroke-linejoin="round" stroke-dasharray="12.6 63.85" stroke-dashoffset="-73.8"/>
<g stroke="none" shape-rendering="crispEdges"><circle cx="303.2" cy="1748.0" r="20"/><circle cx="448.2" cy="1586.6" r="20"/><circle cx="579.7" cy="1479.4" r="20"/><circle cx="708.5" cy="1398.7" r="20"/><circle cx="850.8" cy="1349.1" r="20"/><circle cx="974.3" cy="1339.9" r="20"/><circle cx="1108.5" cy="1350.2" r="20"/><circle cx="1249.5" cy="1362.9" r="20"/><circle cx="1378.3" cy="1373.3" r="20"/><circle cx="1520.6" cy="1382.5" r="20"/><circle cx="1649.4" cy="1390.6" r="20"/><circle cx="1789.0" cy="1397.5" r="20"/><circle cx="1917.9" cy="1402.1" r="20"/><circle cx="2062.8" cy="1412.5" r="20"/><circle cx="2190.3" cy="1411.4" r="20"/><circle cx="2319.2" cy="1413.7" r="20"/></g></g>
<g fill="#471063" stroke="#471063">
<path d="M303.2,1748.0 L449.5,1621.2 L574.3,1535.9 L715.3,1450.6 L844.1,1387.1 L981.0,1341.0 L1119.3,1334.1 L1244.1,1337.6 L1386.4,1338.7 L1515.2,1334.1 L1653.5,1334.1 L1783.6,1328.3 L1927.3,1327.2 L2056.1,1330.7 L2185.0,1333.0 L2319.2,1329.5" fill="none" stroke-width="14" stroke-linejoin="round" stroke-dasharray="16.4 60.05" stroke-dashoffset="-72.1"/><path d="M303.2,1748.0 L449.5,1621.2 L574.3,1535.9 L715.3,1450.6 L844.1,1387.1 L981.0,1341.0 L1119.3,1334.1 L1244.1,1337.6 L1386.4,1338.7 L1515.2,1334.1 L1653.5,1334.1 L1783.6,1328.3 L1927.3,1327.2 L2056.1,1330.7 L2185.0,1333.0 L2319.2,1329.5" fill="none" stroke-width="9.4" stroke-linecap="round" stroke-linejoin="round" stroke-dasharray="12.6 63.85" stroke-dashoffset="-74.0"/>
<g stroke="none" shape-rendering="crispEdges"><circle cx="303.2" cy="1748.0" r="20"/><circle cx="449.5" cy="1621.2" r="20"/><circle cx="574.3" cy="1535.9" r="20"/><circle cx="715.3" cy="1450.6" r="20"/><circle cx="844.1" cy="1387.1" r="20"/><circle cx="981.0" cy="1341.0" r="20"/><circle cx="1119.3" cy="1334.1" r="20"/><circle cx="1244.1" cy="1337.6" r="20"/><circle cx="1386.4" cy="1338.7" r="20"/><circle cx="1515.2" cy="1334.1" r="20"/><circle cx="1653.5" cy="1334.1" r="20"/><circle cx="1783.6" cy="1328.3" r="20"/><circle cx="1927.3" cy="1327.2" r="20"/><circle cx="2056.1" cy="1330.7" r="20"/><circle cx="2185.0" cy="1333.0" r="20"/><circle cx="2319.2" cy="1329.5" r="20"/></g></g>
<g fill="#440154" stroke="#440154">
<path d="M303.2,1748.0 L442.8,1660.4 L573.7,1607.3 L717.9,1548.5 L848.1,1489.8 L986.4,1426.3 L1116.6,1377.9 L1257.5,1324.9 L1386.4,1286.8 L1525.9,1251.1 L1654.8,1226.9 L1783.6,1201.5 L1921.9,1166.9 L2052.1,1138.1 L2193.0,1119.7 L2325.9,1103.5" fill="none" stroke-width="14" stroke-linejoin="round" stroke-dasharray="16.4 60.05" stroke-dashoffset="-72.1"/><path d="M303.2,1748.0 L442.8,1660.4 L573.7,1607.3 L717.9,1548.5 L848.1,1489.8 L986.4,1426.3 L1116.6,1377.9 L1257.5,1324.9 L1386.4,1286.8 L1525.9,1251.1 L1654.8,1226.9 L1783.6,1201.5 L1921.9,1166.9 L2052.1,1138.1 L2193.0,1119.7 L2325.9,1103.5" fill="none" stroke-width="9.4" stroke-linecap="round" stroke-linejoin="round" stroke-dasharray="12.6 63.85" stroke-dashoffset="-74.0"/>
<g stroke="none" shape-rendering="crispEdges"><circle cx="303.2" cy="1748.0" r="20"/><circle cx="442.8" cy="1660.4" r="20"/><circle cx="573.7" cy="1607.3" r="20"/><circle cx="717.9" cy="1548.5" r="20"/><circle cx="848.1" cy="1489.8" r="20"/><circle cx="986.4" cy="1426.3" r="20"/><circle cx="1116.6" cy="1377.9" r="20"/><circle cx="1257.5" cy="1324.9" r="20"/><circle cx="1386.4" cy="1286.8" r="20"/><circle cx="1525.9" cy="1251.1" r="20"/><circle cx="1654.8" cy="1226.9" r="20"/><circle cx="1783.6" cy="1201.5" r="20"/><circle cx="1921.9" cy="1166.9" r="20"/><circle cx="2052.1" cy="1138.1" r="20"/><circle cx="2193.0" cy="1119.7" r="20"/><circle cx="2325.9" cy="1103.5" r="20"/></g></g>
</g>
<g stroke="#000" fill="none" stroke-linecap="butt">
<rect x="303.2" y="16.4" width="2147.5" height="1731.6" stroke-width="5.7"/><path d="M303.2,1748.0 v5 M2450.7,1748.0 v5" stroke-width="5.7"/>
<path d="M437.4,1748.0 v-17.5 M437.4,16.4 v19.0" stroke-width="4.5"/><path d="M571.6,1748.0 v-33 M571.6,16.4 v34.5" stroke-width="5.5"/><path d="M705.9,1748.0 v-17.5 M705.9,16.4 v19.0" stroke-width="4.5"/><path d="M840.1,1748.0 v-33 M840.1,16.4 v34.5" stroke-width="5.5"/><path d="M974.3,1748.0 v-17.5 M974.3,16.4 v19.0" stroke-width="4.5"/><path d="M1108.5,1748.0 v-33 M1108.5,16.4 v34.5" stroke-width="5.5"/><path d="M1242.7,1748.0 v-17.5 M1242.7,16.4 v19.0" stroke-width="4.5"/><path d="M1377.0,1748.0 v-33 M1377.0,16.4 v34.5" stroke-width="5.5"/><path d="M1511.2,1748.0 v-17.5 M1511.2,16.4 v19.0" stroke-width="4.5"/><path d="M1645.4,1748.0 v-33 M1645.4,16.4 v34.5" stroke-width="5.5"/><path d="M1779.6,1748.0 v-17.5 M1779.6,16.4 v19.0" stroke-width="4.5"/><path d="M1913.8,1748.0 v-33 M1913.8,16.4 v34.5" stroke-width="5.5"/><path d="M2048.1,1748.0 v-17.5 M2048.1,16.4 v19.0" stroke-width="4.5"/><path d="M2182.3,1748.0 v-33 M2182.3,16.4 v34.5" stroke-width="5.5"/><path d="M2316.5,1748.0 v-17.5 M2316.5,16.4 v19.0" stroke-width="4.5"/><path d="M303.2,1632.7 h17.5 M2450.7,1632.7 h-17.5" stroke-width="4.5"/><path d="M303.2,1517.4 h33 M2450.7,1517.4 h-33" stroke-width="5.5"/><path d="M303.2,1402.1 h17.5 M2450.7,1402.1 h-17.5" stroke-width="4.5"/><path d="M303.2,1286.8 h33 M2450.7,1286.8 h-33" stroke-width="5.5"/><path d="M303.2,1171.5 h17.5 M2450.7,1171.5 h-17.5" stroke-width="4.5"/><path d="M303.2,1056.3 h33 M2450.7,1056.3 h-33" stroke-width="5.5"/><path d="M303.2,941.0 h17.5 M2450.7,941.0 h-17.5" stroke-width="4.5"/><path d="M303.2,825.7 h33 M2450.7,825.7 h-33" stroke-width="5.5"/><path d="M303.2,710.4 h17.5 M2450.7,710.4 h-17.5" stroke-width="4.5"/><path d="M303.2,595.1 h33 M2450.7,595.1 h-33" stroke-width="5.5"/><path d="M303.2,479.8 h17.5 M2450.7,479.8 h-17.5" stroke-width="4.5"/><path d="M303.2,364.5 h33 M2450.7,364.5 h-33" stroke-width="5.5"/><path d="M303.2,249.2 h17.5 M2450.7,249.2 h-17.5" stroke-width="4.5"/><path d="M303.2,133.9 h33 M2450.7,133.9 h-33" stroke-width="5.5"/>
</g>
<g font-size="73.5px" text-anchor="middle" letter-spacing="0.5">
<text x="303.2" y="1849">0</text>
<text x="571.6" y="1849">2</text>
<text x="840.1" y="1849">4</text>
<text x="1108.5" y="1849">6</text>
<text x="1377.0" y="1849">8</text>
<text x="1648.4" y="1849">10</text>
<text x="1916.8" y="1849">12</text>
<text x="2185.3" y="1849">14</text>
<text x="2453.7" y="1849">16</text>
</g>
<g font-size="73.5px" text-anchor="end" letter-spacing="0.5">
<text x="267.5" y="1778.0">0</text>
<text x="267.5" y="1547.4">200</text>
<text x="267.5" y="1316.8">400</text>
<text x="267.5" y="1086.3">600</text>
<text x="267.5" y="855.7">800</text>
<text x="267.5" y="625.1">1000</text>
<text x="267.5" y="394.5">1200</text>
<text x="267.5" y="163.9">1400</text>
</g>
<text x="1378" y="1971" font-size="90px" text-anchor="middle" style="stroke-width:.5px">Strain(%)</text>
<text transform="translate(79,884.5) rotate(-90)" font-size="91px" text-anchor="middle" style="stroke-width:.5px">Deviator stress(kPa)</text>
<g shape-rendering="crispEdges">
<g stroke="#f6e620" fill="none"><path d="M311.0,72.6 H410.5" stroke-width="14" stroke-dasharray="16.4 60.1" stroke-dashoffset="-2.8"/><path d="M311.0,72.6 H415.0" stroke-width="9.4" stroke-linecap="round" stroke-dasharray="12.6 63.9" stroke-dashoffset="-4.7"/></g><circle cx="381.0" cy="71.1" r="20" fill="#f6e620"/>
<g stroke="#dae319" fill="none"><path d="M750.4,72.6 H849.9" stroke-width="14" stroke-dasharray="16.4 60.1" stroke-dashoffset="-2.8"/><path d="M750.4,72.6 H854.4" stroke-width="9.4" stroke-linecap="round" stroke-dasharray="12.6 63.9" stroke-dashoffset="-4.7"/></g><circle cx="817.4" cy="71.1" r="20" fill="#dae319"/>
<g stroke="#bddf26" fill="none"><path d="M311.0,141.8 H410.5" stroke-width="14" stroke-dasharray="16.4 60.1" stroke-dashoffset="-2.8"/><path d="M311.0,141.8 H415.0" stroke-width="9.4" stroke-linecap="round" stroke-dasharray="12.6 63.9" stroke-dashoffset="-4.7"/></g><circle cx="381.0" cy="140.3" r="20" fill="#bddf26"/>
<g stroke="#a0da39" fill="none"><path d="M750.4,141.8 H849.9" stroke-width="14" stroke-dasharray="16.4 60.1" stroke-dashoffset="-2.8"/><path d="M750.4,141.8 H854.4" stroke-width="9.4" stroke-linecap="round" stroke-dasharray="12.6 63.9" stroke-dashoffset="-4.7"/></g><circle cx="817.4" cy="140.3" r="20" fill="#a0da39"/>
<g stroke="#84d44b" fill="none"><path d="M311.0,211.0 H410.5" stroke-width="14" stroke-dasharray="16.4 60.1" stroke-dashoffset="-2.8"/><path d="M311.0,211.0 H415.0" stroke-width="9.4" stroke-linecap="round" stroke-dasharray="12.6 63.9" stroke-dashoffset="-4.7"/></g><circle cx="381.0" cy="209.5" r="20" fill="#84d44b"/>
<g stroke="#69cd5b" fill="none"><path d="M750.4,211.0 H849.9" stroke-width="14" stroke-dasharray="16.4 60.1" stroke-dashoffset="-2.8"/><path d="M750.4,211.0 H854.4" stroke-width="9.4" stroke-linecap="round" stroke-dasharray="12.6 63.9" stroke-dashoffset="-4.7"/></g><circle cx="817.4" cy="209.5" r="20" fill="#69cd5b"/>
<g stroke="#52c569" fill="none"><path d="M311.0,280.2 H410.5" stroke-width="14" stroke-dasharray="16.4 60.1" stroke-dashoffset="-2.8"/><path d="M311.0,280.2 H415.0" stroke-width="9.4" stroke-linecap="round" stroke-dasharray="12.6 63.9" stroke-dashoffset="-4.7"/></g><circle cx="381.0" cy="278.7" r="20" fill="#52c569"/>
<g stroke="#3dbc74" fill="none"><path d="M750.4,280.2 H849.9" stroke-width="14" stroke-dasharray="16.4 60.1" stroke-dashoffset="-2.8"/><path d="M750.4,280.2 H854.4" stroke-width="9.4" stroke-linecap="round" stroke-dasharray="12.6 63.9" stroke-dashoffset="-4.7"/></g><circle cx="817.4" cy="278.7" r="20" fill="#3dbc74"/>
<g stroke="#2db27d" fill="none"><path d="M311.0,349.4 H410.5" stroke-width="14" stroke-dasharray="16.4 60.1" stroke-dashoffset="-2.8"/><path d="M311.0,349.4 H415.0" stroke-width="9.4" stroke-linecap="round" stroke-dasharray="12.6 63.9" stroke-dashoffset="-4.7"/></g><circle cx="381.0" cy="347.9" r="20" fill="#2db27d"/>
<g stroke="#22a884" fill="none"><path d="M750.4,349.4 H849.9" stroke-width="14" stroke-dasharray="16.4 60.1" stroke-dashoffset="-2.8"/><path d="M750.4,349.4 H854.4" stroke-width="9.4" stroke-linecap="round" stroke-dasharray="12.6 63.9" stroke-dashoffset="-4.7"/></g><circle cx="817.4" cy="347.9" r="20" fill="#22a884"/>
<g stroke="#1f9e89" fill="none"><path d="M311.0,418.6 H410.5" stroke-width="14" stroke-dasharray="16.4 60.1" stroke-dashoffset="-2.8"/><path d="M311.0,418.6 H415.0" stroke-width="9.4" stroke-linecap="round" stroke-dasharray="12.6 63.9" stroke-dashoffset="-4.7"/></g><circle cx="381.0" cy="417.1" r="20" fill="#1f9e89"/>
<g stroke="#20938c" fill="none"><path d="M750.4,418.6 H849.9" stroke-width="14" stroke-dasharray="16.4 60.1" stroke-dashoffset="-2.8"/><path d="M750.4,418.6 H854.4" stroke-width="9.4" stroke-linecap="round" stroke-dasharray="12.6 63.9" stroke-dashoffset="-4.7"/></g><circle cx="817.4" cy="417.1" r="20" fill="#20938c"/>
<g stroke="#23898e" fill="none"><path d="M311.0,487.8 H410.5" stroke-width="14" stroke-dasharray="16.4 60.1" stroke-dashoffset="-2.8"/><path d="M311.0,487.8 H415.0" stroke-width="9.4" stroke-linecap="round" stroke-dasharray="12.6 63.9" stroke-dashoffset="-4.7"/></g><circle cx="381.0" cy="486.3" r="20" fill="#23898e"/>
<g stroke="#277f8e" fill="none"><path d="M750.4,487.8 H849.9" stroke-width="14" stroke-dasharray="16.4 60.1" stroke-dashoffset="-2.8"/><path d="M750.4,487.8 H854.4" stroke-width="9.4" stroke-linecap="round" stroke-dasharray="12.6 63.9" stroke-dashoffset="-4.7"/></g><circle cx="817.4" cy="486.3" r="20" fill="#277f8e"/>
<g stroke="#2b748e" fill="none"><path d="M311.0,557.0 H410.5" stroke-width="14" stroke-dasharray="16.4 60.1" stroke-dashoffset="-2.8"/><path d="M311.0,557.0 H415.0" stroke-width="9.4" stroke-linecap="round" stroke-dasharray="12.6 63.9" stroke-dashoffset="-4.7"/></g><circle cx="381.0" cy="555.5" r="20" fill="#2b748e"/>
<g stroke="#306a8e" fill="none"><path d="M750.4,557.0 H849.9" stroke-width="14" stroke-dasharray="16.4 60.1" stroke-dashoffset="-2.8"/><path d="M750.4,557.0 H854.4" stroke-width="9.4" stroke-linecap="round" stroke-dasharray="12.6 63.9" stroke-dashoffset="-4.7"/></g><circle cx="817.4" cy="555.5" r="20" fill="#306a8e"/>
<g stroke="#355f8d" fill="none"><path d="M311.0,626.2 H410.5" stroke-width="14" stroke-dasharray="16.4 60.1" stroke-dashoffset="-2.8"/><path d="M311.0,626.2 H415.0" stroke-width="9.4" stroke-linecap="round" stroke-dasharray="12.6 63.9" stroke-dashoffset="-4.7"/></g><circle cx="381.0" cy="624.7" r="20" fill="#355f8d"/>
<g stroke="#3a538b" fill="none"><path d="M750.4,626.2 H849.9" stroke-width="14" stroke-dasharray="16.4 60.1" stroke-dashoffset="-2.8"/><path d="M750.4,626.2 H854.4" stroke-width="9.4" stroke-linecap="round" stroke-dasharray="12.6 63.9" stroke-dashoffset="-4.7"/></g><circle cx="817.4" cy="624.7" r="20" fill="#3a538b"/>
<g stroke="#3f4788" fill="none"><path d="M311.0,695.4 H410.5" stroke-width="14" stroke-dasharray="16.4 60.1" stroke-dashoffset="-2.8"/><path d="M311.0,695.4 H415.0" stroke-width="9.4" stroke-linecap="round" stroke-dasharray="12.6 63.9" stroke-dashoffset="-4.7"/></g><circle cx="381.0" cy="693.9" r="20" fill="#3f4788"/>
<g stroke="#443a83" fill="none"><path d="M750.4,695.4 H849.9" stroke-width="14" stroke-dasharray="16.4 60.1" stroke-dashoffset="-2.8"/><path d="M750.4,695.4 H854.4" stroke-width="9.4" stroke-linecap="round" stroke-dasharray="12.6 63.9" stroke-dashoffset="-4.7"/></g><circle cx="817.4" cy="693.9" r="20" fill="#443a83"/>
<g stroke="#472d7b" fill="none"><path d="M311.0,764.6 H410.5" stroke-width="14" stroke-dasharray="16.4 60.1" stroke-dashoffset="-2.8"/><path d="M311.0,764.6 H415.0" stroke-width="9.4" stroke-linecap="round" stroke-dasharray="12.6 63.9" stroke-dashoffset="-4.7"/></g><circle cx="381.0" cy="763.1" r="20" fill="#472d7b"/>
<g stroke="#481f70" fill="none"><path d="M750.4,764.6 H849.9" stroke-width="14" stroke-dasharray="16.4 60.1" stroke-dashoffset="-2.8"/><path d="M750.4,764.6 H854.4" stroke-width="9.4" stroke-linecap="round" stroke-dasharray="12.6 63.9" stroke-dashoffset="-4.7"/></g><circle cx="817.4" cy="763.1" r="20" fill="#481f70"/>
<g stroke="#471063" fill="none"><path d="M311.0,833.8 H410.5" stroke-width="14" stroke-dasharray="16.4 60.1" stroke-dashoffset="-2.8"/><path d="M311.0,833.8 H415.0" stroke-width="9.4" stroke-linecap="round" stroke-dasharray="12.6 63.9" stroke-dashoffset="-4.7"/></g><circle cx="381.0" cy="832.3" r="20" fill="#471063"/>
<g stroke="#440154" fill="none"><path d="M750.4,833.8 H849.9" stroke-width="14" stroke-dasharray="16.4 60.1" stroke-dashoffset="-2.8"/><path d="M750.4,833.8 H854.4" stroke-width="9.4" stroke-linecap="round" stroke-dasharray="12.6 63.9" stroke-dashoffset="-4.7"/></g><circle cx="817.4" cy="832.3" r="20" fill="#440154"/>
</g>
<g font-size="54.5px" style="stroke-width:.8px">
<text x="457.0" y="89.6" textLength="245" lengthAdjust="spacing">9%+50kPa</text>
<text x="896.4" y="89.6" textLength="273" lengthAdjust="spacing">9%+100kPa</text>
<text x="457.0" y="158.8" textLength="273" lengthAdjust="spacing">9%+150kPa</text>
<text x="896.4" y="158.8" textLength="273" lengthAdjust="spacing">9%+200kPa</text>
<text x="457.0" y="228.0" textLength="273" lengthAdjust="spacing">15%+50kPa</text>
<text x="896.4" y="228.0" textLength="300" lengthAdjust="spacing">15%+100kPa</text>
<text x="457.0" y="297.2" textLength="300" lengthAdjust="spacing">15%+150kPa</text>
<text x="896.4" y="297.2" textLength="300" lengthAdjust="spacing">15%+200kPa</text>
<text x="457.0" y="366.4" textLength="273" lengthAdjust="spacing">18%+50kPa</text>
<text x="896.4" y="366.4" textLength="300" lengthAdjust="spacing">18%+100kPa</text>
<text x="457.0" y="435.6" textLength="300" lengthAdjust="spacing">18%+150kPa</text>
<text x="896.4" y="435.6" textLength="300" lengthAdjust="spacing">18%+200kPa</text>
<text x="457.0" y="504.8" textLength="273" lengthAdjust="spacing">21%+50kPa</text>
<text x="896.4" y="504.8" textLength="300" lengthAdjust="spacing">21%+100kPa</text>
<text x="457.0" y="574.0" textLength="300" lengthAdjust="spacing">21%+150kPa</text>
<text x="896.4" y="574.0" textLength="300" lengthAdjust="spacing">21%+200kPa</text>
<text x="457.0" y="643.2" textLength="273" lengthAdjust="spacing">27%+50kPa</text>
<text x="896.4" y="643.2" textLength="300" lengthAdjust="spacing">27%+100kPa</text>
<text x="457.0" y="712.4" textLength="300" lengthAdjust="spacing">27%+150kPa</text>
<text x="896.4" y="712.4" textLength="300" lengthAdjust="spacing">27%+200kPa</text>
<text x="457.0" y="781.6" textLength="273" lengthAdjust="spacing">36%+50kPa</text>
<text x="896.4" y="781.6" textLength="300" lengthAdjust="spacing">36%+100kPa</text>
<text x="457.0" y="850.8" textLength="300" lengthAdjust="spacing">36%+150kPa</text>
<text x="896.4" y="850.8" textLength="331" lengthAdjust="spacing">36%+2000kPa</text>
</g>
</svg></body></html>
